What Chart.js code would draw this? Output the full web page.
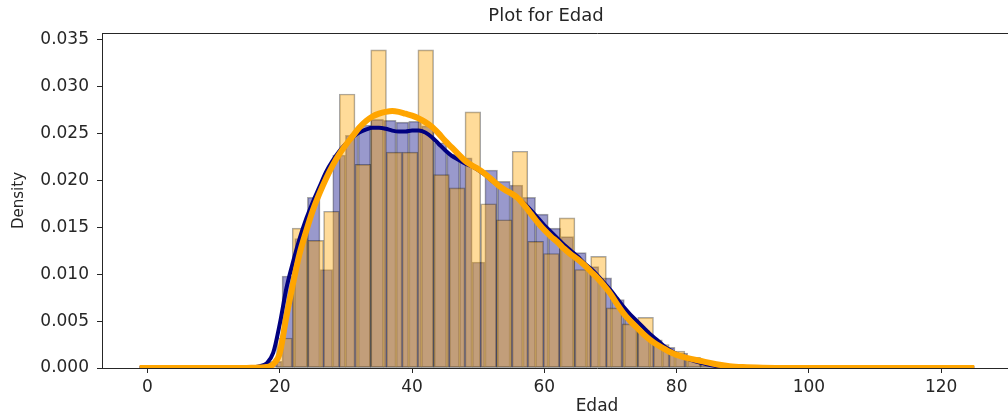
<!DOCTYPE html>
<html>
<head>
<meta charset="utf-8">
<title>Plot for Edad</title>
<script src="https://cdn.jsdelivr.net/npm/chart.js@4"></script>
<style>
  html, body { margin: 0; padding: 0; overflow: hidden; background: #fff; }
  #wrap { position: relative; width: 1092px; height: 419px; }
</style>
</head>
<body>
<div id="wrap"><canvas id="edadChart"></canvas></div>
<script>
// Histogram of the first sample (navy): equal bins, density per bin
const blueStart = 18.42;
const blueWidth = 1.9167;
const blueDensity = [
    0.0007, 0.0098, 0.0138, 0.0182, 0.0105, 0.0227, 0.0248, 0.0259, 0.0265, 0.0264,
    0.0262, 0.0263, 0.0258, 0.0240, 0.0228, 0.0224, 0.0113, 0.0211, 0.0199, 0.0195,
    0.0182, 0.0164, 0.0149, 0.0140, 0.0123, 0.0108, 0.0096, 0.0073, 0.0052, 0.0040,
    0.0030, 0.0022, 0.0016, 0.0011, 0.0007, 0.0004
];

// Histogram of the second sample (orange)
const orangeStart = 19.5;
const orangeWidth = 2.375;
const orangeDensity = [
    0.0032, 0.0149, 0.0136, 0.0167, 0.0292, 0.0217, 0.0339, 0.0230, 0.0230, 0.0339,
    0.0206, 0.0192, 0.0273, 0.0175, 0.0158, 0.0231, 0.0135, 0.0122, 0.0160, 0.0105,
    0.0119, 0.0064, 0.0047, 0.0054, 0.0025, 0.0018, 0.0011, 0.0006, 0.0003
];

// KDE curves, sampled at these ages
const kdeAges = [
    -1.2, 6, 12, 14,
    15, 16, 17, 18, 19, 20, 21, 22, 23, 24, 25, 26, 27, 28, 29, 30,
    31, 32, 33, 34, 35, 36, 37, 38, 39, 40, 41, 42, 43, 44, 45, 46,
    47, 48, 49, 50, 51, 52, 53, 54, 55, 56, 57, 58, 59, 60, 61, 62,
    63, 64, 65, 66, 67, 68, 69, 70, 71, 72, 73, 74, 75, 76, 77, 78,
    79, 80, 82, 84, 86, 88, 90, 93, 97, 110, 125
];
const blueKde = [
    0, 0, 0, 0.00001,
    0.00003, 0.00008, 0.0002, 0.0005, 0.0016, 0.0047, 0.0085, 0.0113, 0.0138, 0.0159, 0.0177, 0.0193, 0.0209, 0.0221, 0.0231, 0.0239,
    0.0246, 0.0251, 0.0254, 0.0256, 0.0256, 0.0255, 0.0253, 0.0252, 0.0252, 0.0253, 0.0253, 0.0251, 0.0246, 0.0239, 0.0232, 0.0226,
    0.0222, 0.0218, 0.0215, 0.0211, 0.0206, 0.0200, 0.0195, 0.0190, 0.0186, 0.0181, 0.0175, 0.0168, 0.0160, 0.0152, 0.0145, 0.0138,
    0.0131, 0.0125, 0.0119, 0.0112, 0.0106, 0.0099, 0.0091, 0.0083, 0.0074, 0.0065, 0.0057, 0.0050, 0.0043, 0.0036, 0.0030, 0.0024,
    0.0019, 0.0015, 0.0009, 0.0005, 0.0002, 0.0001, 0.00003, 0, 0, 0, 0
];
const orangeKde = [
    0, 0, 0, 0,
    0.00001, 0.00003, 0.00005, 0.0001, 0.0004, 0.0016, 0.0055, 0.0090, 0.0122, 0.0146, 0.0168, 0.0186, 0.0202, 0.0216, 0.0228, 0.0238,
    0.0247, 0.0256, 0.0263, 0.0268, 0.0271, 0.0273, 0.0274, 0.0273, 0.0271, 0.0269, 0.0266, 0.0262, 0.0257, 0.0250, 0.0242, 0.0235,
    0.0228, 0.0221, 0.0216, 0.0212, 0.0207, 0.0201, 0.0195, 0.0190, 0.0186, 0.0181, 0.0173, 0.0164, 0.0155, 0.0147, 0.0140, 0.0134,
    0.0127, 0.0121, 0.0116, 0.0110, 0.0103, 0.0096, 0.0088, 0.0079, 0.0068, 0.0058, 0.0050, 0.0043, 0.0036, 0.0030, 0.0025, 0.0021,
    0.0017, 0.0014, 0.0010, 0.0007, 0.0004, 0.0002, 0.0001, 0.00003, 0, 0, 0
];

const xTicks = [0, 20, 40, 60, 80, 100, 120];
const yTicks = [0, 0.005, 0.01, 0.015, 0.02, 0.025, 0.03, 0.035];

// bars sit on the bin centres
const binPoints = (start, width, heights) =>
    heights.map((h, i) => ({ x: start + width * (i + 0.5), y: h }));
const curvePoints = (ys) => kdeAges.map((a, i) => ({ x: a, y: ys[i] }));

// the axes run on past the right edge of the page
const xMin = -6.88;
const xMax = 142.8;
const ink = '#262626';

Chart.defaults.font.family = '"DejaVu Sans", sans-serif';
Chart.defaults.color = ink;

new Chart(document.getElementById('edadChart'), {
    type: 'bar',
    data: {
        datasets: [
            {
                type: 'line',
                label: 'KDE 2',
                data: curvePoints(orangeKde),
                borderColor: '#ffa500',
                borderWidth: 6,
                pointRadius: 0,
                cubicInterpolationMode: 'monotone',
                clip: 0,
                xAxisID: 'x',
                order: 0
            },
            {
                type: 'line',
                label: 'KDE 1',
                data: curvePoints(blueKde),
                borderColor: '#000080',
                borderWidth: 4,
                pointRadius: 0,
                cubicInterpolationMode: 'monotone',
                clip: 0,
                xAxisID: 'x',
                order: 1
            },
            {
                label: 'Edad 2',
                data: binPoints(orangeStart, orangeWidth, orangeDensity),
                backgroundColor: 'rgba(255, 165, 0, 0.4)',
                borderColor: 'rgba(0, 0, 0, 0.35)',
                borderWidth: 1,
                borderSkipped: false,
                barPercentage: 1,
                categoryPercentage: 1,
                grouped: false,
                xAxisID: 'x2',
                order: 2
            },
            {
                label: 'Edad 1',
                data: binPoints(blueStart, blueWidth, blueDensity),
                backgroundColor: 'rgba(0, 0, 128, 0.4)',
                borderColor: 'rgba(0, 0, 0, 0.35)',
                borderWidth: 1,
                borderSkipped: false,
                barPercentage: 1,
                categoryPercentage: 1,
                grouped: false,
                xAxisID: 'x',
                order: 3
            }
        ]
    },
    options: {
        responsive: true,
        maintainAspectRatio: false,
        animation: false,
        events: [],
        layout: { padding: 0 },
        plugins: {
            legend: { display: false },
            tooltip: { enabled: false },
            title: {
                display: true,
                text: 'Plot for Edad',
                color: ink,
                font: { size: 18, weight: 'normal' },
                padding: { top: 6, bottom: 5.4 }
            }
        },
        scales: {
            x: {
                type: 'linear',
                position: 'bottom',
                min: xMin,
                max: xMax,
                offset: false,
                afterBuildTicks: (s) => { s.ticks = xTicks.map((v) => ({ value: v })); },
                ticks: { padding: 4, font: { size: 17 }, maxRotation: 0, autoSkip: false },
                grid: { drawOnChartArea: false, offset: false, tickLength: 5, tickColor: ink },
                border: { color: ink, width: 1 },
                title: { display: true, text: 'Edad', font: { size: 17 }, padding: { top: 0, bottom: 2 } },
                afterFit: (s) => { s.height = 51; }
            },
            x2: {
                type: 'linear',
                position: 'top',
                min: xMin,
                max: xMax,
                offset: false,
                ticks: { display: false },
                grid: { drawOnChartArea: false, drawTicks: false, offset: false },
                border: { color: ink, width: 1 },
                afterFit: (s) => { s.height = 0; }
            },
            y: {
                min: 0,
                max: 0.0357,
                afterBuildTicks: (s) => { s.ticks = yTicks.map((v) => ({ value: v })); },
                ticks: { padding: 8, font: { size: 17 }, callback: (v) => v.toFixed(3) },
                grid: { drawOnChartArea: false, tickLength: 5, tickColor: ink },
                border: { color: ink, width: 1 },
                title: { display: true, text: 'Density', font: { size: 15 }, padding: { top: 10, bottom: 0 } },
                afterFit: (s) => { s.width = 102; }
            }
        }
    }
});
</script>
</body>
</html>
